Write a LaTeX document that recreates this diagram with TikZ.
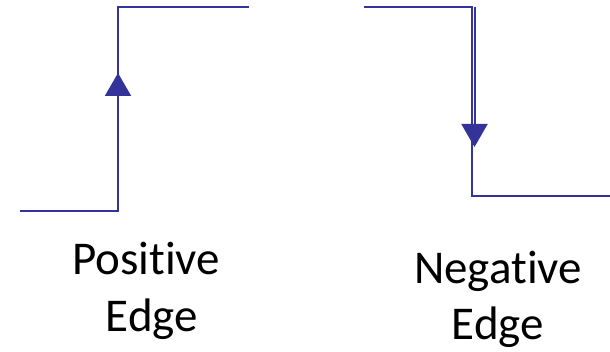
\documentclass[tikz,border=0pt]{standalone}
\usepackage{fontspec}
\setmainfont{Carlito}[Ligatures=NoCommon]
\usetikzlibrary{arrows.meta}
\definecolor{sig}{RGB}{51,51,153}
\begin{document}
\begin{tikzpicture}[x=1pt,y=-1pt,
  wave/.style={draw=sig,line width=2pt,line join=miter},
  edgearrow/.style={draw=sig,line width=2pt,-{Triangle[width=26pt,length=23pt]}},
  lbl/.style={anchor=base,inner sep=0pt,font=\fontsize{47}{56}\selectfont}]
\useasboundingbox (0,0) rectangle (610,352);
% rising edge
\coordinate (p0) at (20,211);
\coordinate (p1) at (118,211);
\coordinate (p2) at (118,7);
\coordinate (p3) at (249,7);
\coordinate (pa) at (118,73);
\draw[wave] (p0) -- (p1) -- (p2) -- (p3);
\draw[edgearrow] (p1) -- (pa);
% falling edge
\coordinate (n0) at (364,7);
\coordinate (n1) at (471.5,7);
\coordinate (n2) at (471.5,196);
\coordinate (n3) at (610,196);
\coordinate (nb) at (474.5,7);
\coordinate (na) at (474.5,147);
\draw[wave] (n0) -- (n1) -- (n2) -- (n3);
\draw[edgearrow] (nb) -- (na);
% labels
\node[lbl] (pos1) at (146,275) {Positive};
\node[lbl] (pos2) at (152,331) {Edge};
\node[lbl] (neg1) at (498,284) {Negative};
\node[lbl] (neg2) at (498,340) {Edge};
\end{tikzpicture}
\end{document}
